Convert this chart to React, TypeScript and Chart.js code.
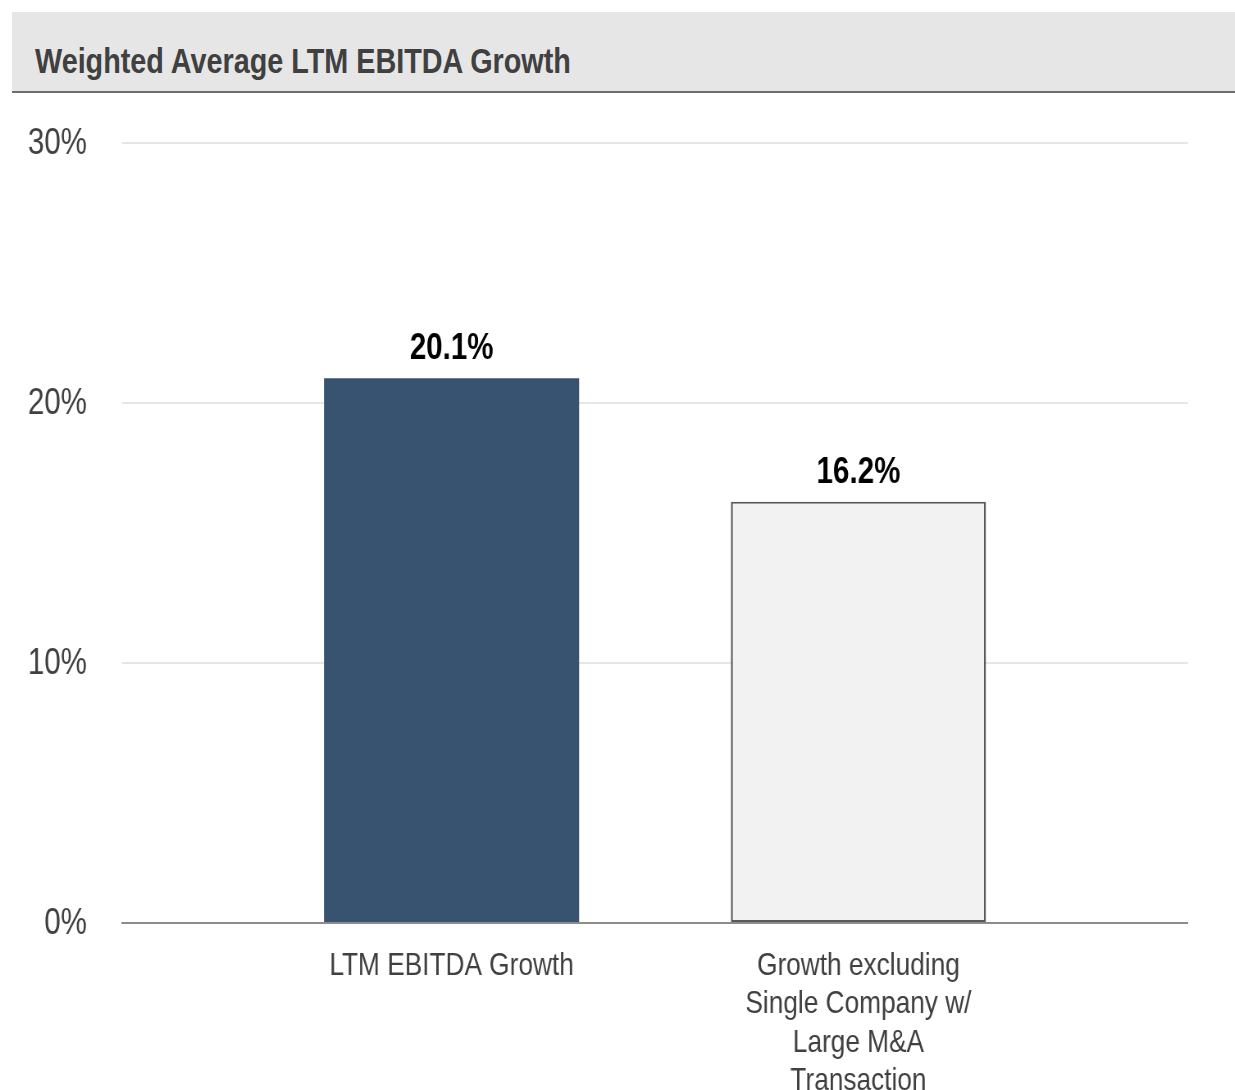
import React, { useEffect, useRef } from "react";
import { Chart, registerables } from "chart.js";

Chart.register(...registerables);

// ---- data ----
const categories: (string | string[])[] = [
  "LTM EBITDA Growth",
  ["Growth excluding", "Single Company w/", "Large M&A", "Transaction"],
];
const values = [20.95, 16.2];
const valueLabels = ["20.1%", "16.2%"];
const yMin = 0;
const yMax = 30;
const yStep = 10;
const titleText = "Weighted Average LTM EBITDA Growth";

// ---- styles ----
// The reference uses a narrow (Arial Narrow-like) face; emulate it with
// Liberation Sans squeezed horizontally.
const FONT = "'Liberation Sans', Arial, sans-serif";
const S = 0.82; // horizontal condense factor
const PAGE_W = 1235;
const CANVAS_TOP = 94;
const CANVAS_H = 1090 - CANVAS_TOP;
const LOGICAL_W = PAGE_W / S;

const barFill = ["#38536f", "#f2f2f2"];
const barBorder = ["#38536f", "#595959"];
const barBorderW = [
  0,
  { top: 2, bottom: 2, left: 2 / S, right: 2 / S },
];
const X_PAD = 0.81;

const valueLabelPlugin = {
  id: "valueLabels",
  afterDatasetsDraw(chart: any) {
    const ctx = chart.ctx;
    const meta = chart.getDatasetMeta(0);
    ctx.save();
    ctx.font = `bold 36px ${FONT}`;
    ctx.fillStyle = "#000000";
    ctx.textAlign = "center";
    ctx.textBaseline = "alphabetic";
    meta.data.forEach((bar: any, i: number) => {
      ctx.fillText(valueLabels[i], bar.x, bar.y - 19);
    });
    ctx.restore();
  },
};

export default function App() {
  const canvasRef = useRef<HTMLCanvasElement | null>(null);

  useEffect(() => {
    if (!canvasRef.current) return;
    const chart = new Chart(canvasRef.current, {
      type: "bar",
      data: {
        labels: categories as any,
        datasets: [
          {
            data: values,
            backgroundColor: barFill,
            borderColor: barBorder,
            borderWidth: barBorderW as any,
            borderSkipped: false,
            categoryPercentage: 1,
            barPercentage: 0.627,
          },
        ],
      },
      options: {
        animation: false,
        responsive: true,
        maintainAspectRatio: false,
        layout: { padding: { top: 49, right: 47 / S, left: 0, bottom: 0 } },
        plugins: {
          legend: { display: false },
          tooltip: { enabled: false },
          title: { display: false },
        },
        scales: {
          x: {
            type: "category",
            position: "bottom",
            grid: { display: false },
            border: { display: true, color: "#8c8c8c", width: 2 },
            ticks: {
              color: "#404040",
              font: { family: FONT, size: 32, lineHeight: 1.2 },
              padding: 16,
              maxRotation: 0,
              minRotation: 0,
              autoSkip: false,
            },
            afterBuildTicks: (s: any) => {
              s._startValue = -X_PAD;
              s._valueRange = 1 + 2 * X_PAD;
            },
            afterFit: (s: any) => {
              s.height = 167;
            },
          },
          y: {
            min: yMin,
            max: yMax,
            grid: { color: "#e6e6e6", lineWidth: 2, drawTicks: false },
            border: { display: false },
            ticks: {
              stepSize: yStep,
              color: "#404040",
              font: { family: FONT, size: 36 },
              padding: 35 / S,
              labelOffset: 1,
              callback: (v: any) => `${v}%`,
            },
            afterFit: (s: any) => {
              s.width = 122 / S;
              s.paddingTop = 0;
              s.paddingBottom = 0;
            },
          },
        },
      },
      plugins: [valueLabelPlugin],
    });
    return () => chart.destroy();
  }, []);

  return (
    <div
      style={{
        position: "absolute",
        left: 0,
        top: 0,
        width: PAGE_W,
        height: 1090,
        overflow: "hidden",
        background: "#ffffff",
      }}
    >
      <div
        style={{
          position: "absolute",
          left: 12,
          top: 12,
          width: PAGE_W - 12,
          height: 79,
          background: "#e6e6e6",
          borderBottom: "2px solid #6e6e6e",
        }}
      >
        <span
          style={{
            position: "absolute",
            left: 23,
            top: 31,
            fontFamily: FONT,
            fontWeight: "bold",
            fontSize: 35.1,
            lineHeight: "35px",
            color: "#404040",
            whiteSpace: "nowrap",
            transform: `scaleX(${S})`,
            transformOrigin: "0 0",
          }}
        >
          {titleText}
        </span>
      </div>
      <div
        style={{
          position: "absolute",
          left: 0,
          top: CANVAS_TOP,
          width: LOGICAL_W,
          height: CANVAS_H,
          transform: `scaleX(${S})`,
          transformOrigin: "0 0",
        }}
      >
        <canvas ref={canvasRef} />
      </div>
    </div>
  );
}
